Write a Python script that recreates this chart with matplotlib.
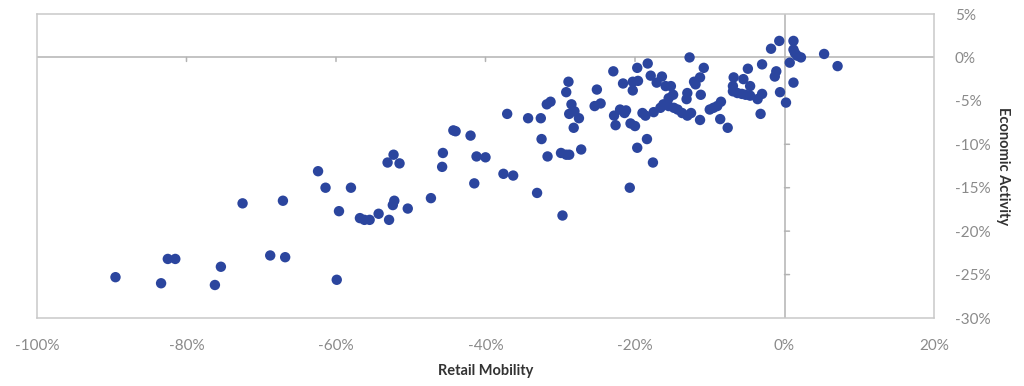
import matplotlib
matplotlib.use("Agg")
import matplotlib.pyplot as plt
import matplotlib.transforms as mtransforms
from matplotlib.ticker import FuncFormatter

retail_mobility = [
    -89.5, -83.4, -82.5, -81.5, -75.4, -76.2, -72.5, -68.8, -66.8, -67.1,
    -62.4, -61.4, -59.6, -59.9, -58.0, -56.8, -56.2, -55.5, -54.3, -52.9,
    -52.2, -52.4, -50.4, -53.1, -52.3, -51.5, -47.3, -45.8, -45.7, -44.3,
    -44.0, -42.0, -41.5, -41.2, -40.0, -37.1, -37.6, -36.3, -34.3, -32.6,
    -32.5, -33.1, -31.7, -31.8, -31.3, -29.7, -29.9, -29.2, -28.8, -27.2,
    -28.9, -29.2, -28.5, -28.8, -28.1, -27.5, -28.2, -25.1, -25.4, -24.6,
    -22.9, -21.6, -20.3, -20.3, -19.6, -19.7, -18.3, -17.9, -22.0, -21.4,
    -21.2, -22.8, -22.6, -20.6, -20.0, -19.0, -18.6, -18.4, -19.7, -17.6,
    -17.5, -20.7, -16.4, -17.1, -15.9, -15.2, -14.9, -15.5, -16.2, -16.6,
    -15.5, -14.8, -14.3, -13.7, -13.0, -12.5, -11.3, -12.7, -10.8, -11.3,
    -11.9, -12.1, -13.0, -13.1, -11.2, -10.0, -9.5, -9.0, -8.5, -8.6,
    -7.6, -6.8, -5.5, -4.9, -6.9, -6.9, -6.3, -5.7, -5.2, -4.6,
    -4.6, -3.6, -3.0, -3.0, -3.2, -1.3, -1.1, -1.8, -0.7, -0.6,
    0.2, 0.7, 1.2, 1.2, 1.2, 1.4, 1.7, 2.2, 5.3, 7.1,
]
economic_activity = [
    -25.3, -26.0, -23.2, -23.2, -24.1, -26.2, -16.8, -22.8, -23.0, -16.5,
    -13.1, -15.0, -17.7, -25.6, -15.0, -18.5, -18.7, -18.7, -18.0, -18.7,
    -16.5, -17.0, -17.4, -12.1, -11.2, -12.2, -16.2, -12.6, -11.0, -8.4,
    -8.5, -9.0, -14.5, -11.4, -11.5, -6.5, -13.4, -13.6, -7.0, -7.0,
    -9.4, -15.6, -11.4, -5.4, -5.1, -18.2, -11.0, -11.2, -11.2, -10.6,
    -2.8, -4.0, -5.4, -6.5, -6.2, -7.0, -8.1, -3.7, -5.6, -5.3,
    -1.6, -3.0, -3.8, -2.8, -2.7, -1.2, -0.7, -2.1, -6.0, -6.4,
    -6.1, -6.7, -7.8, -7.6, -7.9, -6.4, -6.7, -9.4, -10.4, -12.1,
    -6.3, -15.0, -2.2, -2.9, -3.3, -3.3, -4.3, -4.7, -5.4, -5.8,
    -5.6, -5.8, -6.0, -6.4, -6.7, -6.4, -7.2, 0.0, -1.2, -2.3,
    -3.1, -2.8, -4.1, -4.8, -4.3, -6.0, -5.8, -5.6, -5.1, -7.1,
    -8.1, -2.3, -2.5, -1.3, -3.3, -3.9, -4.1, -4.2, -4.3, -3.3,
    -4.4, -4.8, -4.2, -0.8, -6.5, -2.2, -1.6, 1.0, 1.9, -4.0,
    -5.2, -0.6, -2.9, 1.9, 0.9, 0.5, 0.2, 0.0, 0.4, -1.0,
]

x_ticks = [-100, -80, -60, -40, -20, 0, 20]
y_ticks = [5, 0, -5, -10, -15, -20, -25, -30]

GRID = "#c9c9c9"
ZERO = "#b3b3b3"
TXT = "#8a8a8a"
DOT = "#2b459e"

plt.rcParams["font.family"] = ["Lato", "DejaVu Sans"]

fig = plt.figure(figsize=(10.24, 3.86), dpi=100)
ax = fig.add_axes([37 / 1024, 1 - 318 / 386, (934 - 37) / 1024, (318 - 14) / 386])

ax.set_xlim(-100, 20)
ax.set_ylim(-30, 5)

for s in ax.spines.values():
    s.set_color(GRID)
    s.set_linewidth(1.1)

ax.axhline(0, color=ZERO, lw=1.1, zorder=1)
ax.axvline(0, color=ZERO, lw=1.1, zorder=1)

# small tick marks on the zero lines
trans_x = mtransforms.offset_copy(ax.transData, fig=fig, x=0, y=0, units="dots")
for xv in x_ticks[1:-2]:
    ax.annotate("", xy=(xv, 0), xytext=(0, -4), textcoords="offset pixels",
                arrowprops=dict(arrowstyle="-", color=ZERO, lw=1.1,
                                shrinkA=0, shrinkB=0), zorder=1)
for yv in y_ticks[3:-1]:
    ax.annotate("", xy=(0, yv), xytext=(5, 0), textcoords="offset pixels",
                arrowprops=dict(arrowstyle="-", color=ZERO, lw=1.1,
                                shrinkA=0, shrinkB=0), zorder=1)

ax.scatter(retail_mobility, economic_activity, s=56, color=DOT,
           edgecolors="none", zorder=3)

ax.set_xticks(x_ticks)
ax.set_yticks(y_ticks)
fmt = FuncFormatter(lambda v, p: f"{int(v)}%")
ax.xaxis.set_major_formatter(fmt)
ax.yaxis.set_major_formatter(fmt)
ax.tick_params(axis="x", length=0, pad=15, labelsize=11, labelcolor=TXT)
ax.yaxis.tick_right()
ax.tick_params(axis="y", length=0, pad=15, labelsize=11, labelcolor=TXT)

ax.set_xlabel("Retail Mobility", fontsize=10.5, fontweight="bold",
              color="#333333", labelpad=8)
ax.yaxis.set_label_position("right")
ax.set_ylabel("Economic Activity", fontsize=10.5, fontweight="bold",
              color="#333333", rotation=270, labelpad=14)

fig.savefig("out.png", dpi=100)
